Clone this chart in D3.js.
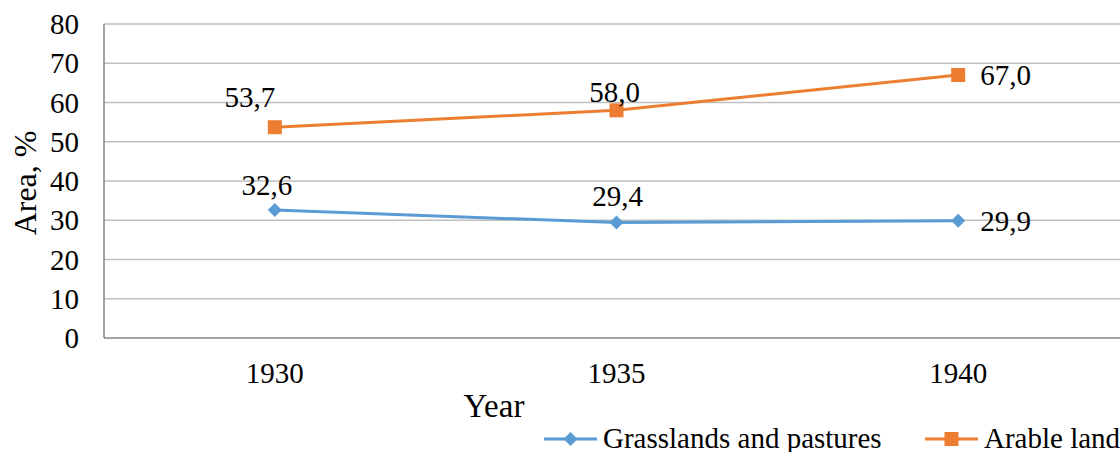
<!DOCTYPE html>
<html>
<head>
<meta charset="utf-8">
<script src="https://cdn.jsdelivr.net/npm/d3@7"></script>
<style>
  body { margin: 0; background: #fff; }
  svg { display: block; }
</style>
</head>
<body>
<div id="chart"></div>
<script>
const years = ['1930', '1935', '1940'];
const grasslands = [32.6, 29.4, 29.9];
const arable = [53.7, 58.0, 67.0];
const yTicks = [0, 10, 20, 30, 40, 50, 60, 70, 80];

const series = [
    { name: 'Grasslands and pastures', values: grasslands, color: '#5B9BD5', marker: 'diamond' },
    { name: 'Arable land', values: arable, color: '#ED7D31', marker: 'square' }
];

const width = 1120, height = 452;
const margin = { top: 24, left: 104, bottom: 114 };
const plotRight = 1129;
const fontSize = 29;

const svg = d3.select('#chart').append('svg')
    .attr('width', width)
    .attr('height', height)
    .attr('font-family', '"Liberation Serif", "Times New Roman", serif')
    .attr('fill', '#000');

const x = d3.scaleBand().domain(years).range([margin.left, plotRight]);
const y = d3.scaleLinear().domain([0, 80]).range([height - margin.bottom, margin.top]);

// gridlines
svg.append('g')
    .selectAll('line')
    .data(yTicks)
    .join('line')
    .attr('x1', margin.left)
    .attr('x2', plotRight)
    .attr('y1', d => y(d))
    .attr('y2', d => y(d))
    .attr('stroke', d => d === 0 ? '#868686' : '#BFBFBF')
    .attr('stroke-width', 1.5);

svg.append('line')
    .attr('x1', margin.left).attr('x2', margin.left)
    .attr('y1', y(80)).attr('y2', y(0))
    .attr('stroke', '#868686')
    .attr('stroke-width', 1.5);

// y tick labels
svg.append('g')
    .selectAll('text')
    .data(yTicks)
    .join('text')
    .attr('x', 79)
    .attr('y', d => y(d))
    .attr('dy', '0.35em')
    .attr('text-anchor', 'end')
    .attr('font-size', fontSize)
    .text(d => d);

// x tick labels
svg.append('g')
    .selectAll('text')
    .data(years)
    .join('text')
    .attr('x', d => x(d) + x.bandwidth() / 2)
    .attr('y', 383)
    .attr('text-anchor', 'middle')
    .attr('font-size', fontSize)
    .text(d => d);

// axis titles
svg.append('text')
    .attr('x', 494).attr('y', 417)
    .attr('text-anchor', 'middle')
    .attr('font-size', 33)
    .text('Year');

svg.append('text')
    .attr('transform', `translate(36, ${y(39.5)}) rotate(-90)`)
    .attr('text-anchor', 'middle')
    .attr('font-size', 32)
    .text('Area, %');

const cx = d => x(d) + x.bandwidth() / 2;
const line = d3.line()
    .x((d, i) => cx(years[i]))
    .y(d => y(d));

function drawMarker(g, type, color) {
    if (type === 'diamond') {
        g.append('path')
            .attr('d', 'M0,-7L7,0L0,7L-7,0Z')
            .attr('fill', color);
    } else {
        g.append('rect')
            .attr('x', -7).attr('y', -7)
            .attr('width', 14).attr('height', 14)
            .attr('fill', color);
    }
}

series.forEach(s => {
    svg.append('path')
        .datum(s.values)
        .attr('d', line)
        .attr('fill', 'none')
        .attr('stroke', s.color)
        .attr('stroke-width', 3);
    s.values.forEach((v, i) => {
        const g = svg.append('g').attr('transform', `translate(${cx(years[i])},${y(v)})`);
        drawMarker(g, s.marker, s.color);
    });
});

// data labels (offsets relative to the marker)
const fmt = v => v.toFixed(1).replace('.', ',');
const labelOffsets = {
    'Grasslands and pastures': [[-8, -15, 'middle'], [1, -17, 'middle'], [22, 10, 'start']],
    'Arable land': [[-25, -20, 'middle'], [-2, -8, 'middle'], [22, 10, 'start']]
};
series.forEach(s => {
    svg.append('g')
        .selectAll('text')
        .data(s.values)
        .join('text')
        .attr('x', (d, i) => cx(years[i]) + labelOffsets[s.name][i][0])
        .attr('y', (d, i) => y(d) + labelOffsets[s.name][i][1])
        .attr('text-anchor', (d, i) => labelOffsets[s.name][i][2])
        .attr('font-size', fontSize)
        .text(fmt);
});

// legend
const legendItems = [
    { s: series[0], x0: 544 },
    { s: series[1], x0: 925 }
];
legendItems.forEach(({ s, x0 }) => {
    const g = svg.append('g').attr('transform', `translate(${x0}, 439)`);
    g.append('line')
        .attr('x1', 0).attr('x2', 53)
        .attr('stroke', s.color)
        .attr('stroke-width', 3);
    const m = g.append('g').attr('transform', 'translate(26.5,0)');
    drawMarker(m, s.marker, s.color);
    g.append('text')
        .attr('x', 59).attr('y', 9)
        .attr('font-size', fontSize)
        .text(s.name);
});
</script>
</body>
</html>
